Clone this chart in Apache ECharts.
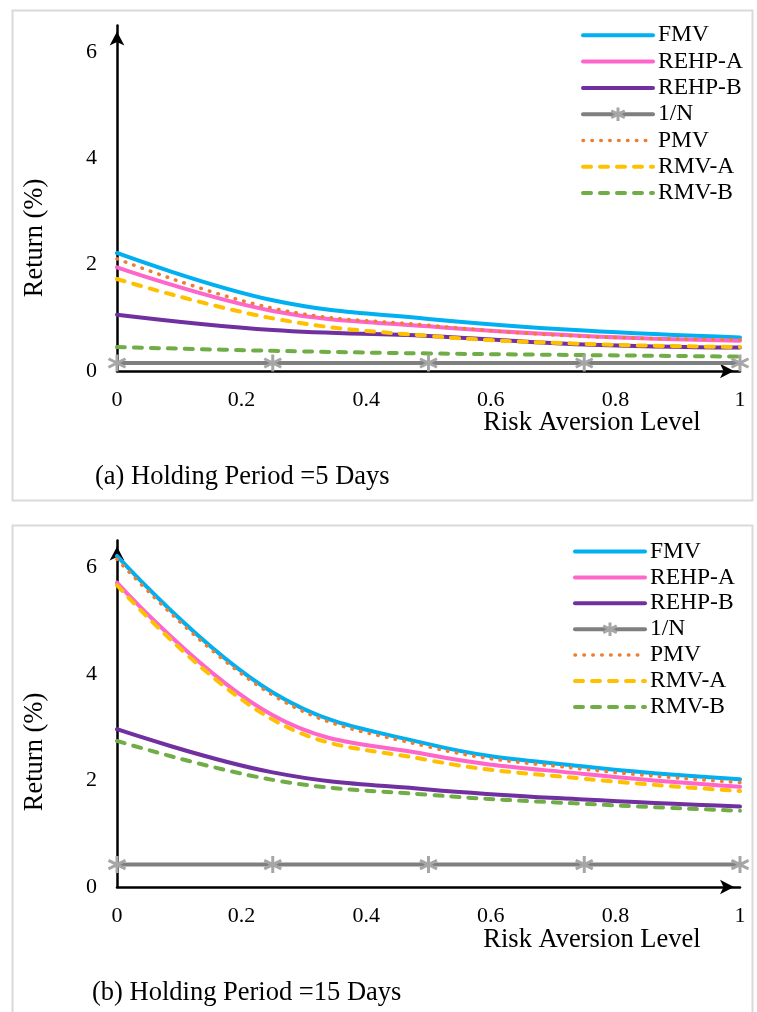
<!DOCTYPE html>
<html>
<head>
<meta charset="utf-8">
<script src="https://cdn.jsdelivr.net/npm/echarts@6/dist/echarts.min.js"></script>
<style>
html,body{margin:0;padding:0;background:#fff;}
#chart{width:757px;height:1012px;}
</style>
</head>
<body>
<div id="chart"></div>
<script>
// ---------------- DATA ----------------
const xValues = [0, 0.25, 0.5, 0.75, 1];
const xTickLabels = ['0', '0.2', '0.4', '0.6', '0.8', '1'];
const yTickLabels = ['0', '2', '4', '6'];
const seriesNames = ['FMV', 'REHP-A', 'REHP-B', '1/N', 'PMV', 'RMV-A', 'RMV-B'];

// Panel (a): Holding period = 5 days
const fmv5   = [2.22, 1.33, 0.98, 0.76, 0.63];
const rehpA5 = [1.95, 1.13, 0.84, 0.66, 0.57];
const rehpB5 = [1.06, 0.77, 0.66, 0.50, 0.44];
const oneN5  = [0.15, 0.15, 0.15, 0.15, 0.15];
const pmv5   = [2.11, 1.18, 0.86, 0.65, 0.59];
const rmvA5  = [1.73, 0.99, 0.66, 0.51, 0.45];
const rmvB5  = [0.45, 0.38, 0.33, 0.30, 0.27];

// Panel (b): Holding period = 15 days
const fmv15   = [6.21, 3.65, 2.68, 2.26, 2.02];
const rehpA15 = [5.71, 3.22, 2.48, 2.12, 1.88];
const rehpB15 = [2.96, 2.15, 1.83, 1.64, 1.51];
const oneN15  = [0.42, 0.42, 0.42, 0.42, 0.42];
const pmv15   = [6.15, 3.60, 2.63, 2.21, 1.96];
const rmvA15  = [5.66, 3.14, 2.38, 2.03, 1.80];
const rmvB15  = [2.74, 2.01, 1.73, 1.56, 1.43];

const panelA = [fmv5, rehpA5, rehpB5, oneN5, pmv5, rmvA5, rmvB5];
const panelB = [fmv15, rehpA15, rehpB15, oneN15, pmv15, rmvA15, rmvB15];

const titleX = 'Risk Aversion Level';
const titleY = 'Return (%)';
const captionA = '(a) Holding Period =5 Days';
const captionB = '(b) Holding Period =15 Days';

// ---------------- STYLE ----------------
const FONT = '"Liberation Serif", "Times New Roman", serif';
const styles = {
  'FMV':    {color: '#00b0f0', type: 'solid', width: 4},
  'REHP-A': {color: '#ff66cc', type: 'solid', width: 4},
  'REHP-B': {color: '#7030a0', type: 'solid', width: 4},
  '1/N':    {color: '#7f7f7f', type: 'solid', width: 4, marker: true},
  'PMV':    {color: '#ed7d31', type: [0.5, 8.4], width: 3.5},
  'RMV-A':  {color: '#ffc000', type: [8, 9], width: 4},
  'RMV-B':  {color: '#70ad47', type: [8, 9], width: 4}
};
const asterisk = 'path://M0,-10L0,10M-8.66,-5L8.66,5M-8.66,5L8.66,-5';

function makeSeries(values, gi) {
  return seriesNames.map((name, k) => {
    const s = styles[name];
    return {
      type: 'line',
      name: name,
      xAxisIndex: gi,
      yAxisIndex: gi,
      data: xValues.map((x, i) => [x, values[k][i]]),
      smooth: 0.4,
      symbol: s.marker ? asterisk : 'none',
      showSymbol: !!s.marker,
      symbolSize: 17,
      lineStyle: {color: s.color, width: s.width, type: s.type, cap: 'round'},
      itemStyle: s.marker
        ? {color: '#a6a6a6', borderColor: '#a6a6a6', borderWidth: 3}
        : {color: 'rgba(0,0,0,0)', borderWidth: 0},
      emphasis: {disabled: true},
      animation: false
    };
  });
}

function xAxis(gi) {
  return {
    type: 'value', gridIndex: gi, min: 0, max: 1, interval: 0.2,
    axisLine: {lineStyle: {color: '#000', width: 2.5}, symbol: ['none', 'arrow'], symbolSize: [11, 14], symbolOffset: [0, -6]},
    axisTick: {show: false},
    splitLine: {show: false},
    axisLabel: {color: '#000', fontFamily: FONT, fontSize: 22, margin: 18,
      formatter: v => xTickLabels[Math.round(v / 0.2)]}
  };
}
function yAxis(gi) {
  return {
    type: 'value', gridIndex: gi, min: 0, max: 6.5, interval: 2,
    axisLine: {show: true, lineStyle: {color: '#000', width: 2.5}, symbol: ['none', 'arrow'], symbolSize: [11, 14], symbolOffset: [0, -6]},
    axisTick: {show: false},
    splitLine: {show: false},
    axisLabel: {color: '#000', fontFamily: FONT, fontSize: 22, margin: 20, showMaxLabel: false,
      formatter: v => yTickLabels[Math.round(v / 2)]}
  };
}
function legend(left, top, gap) {
  return {
    orient: 'vertical', left: left, top: top, padding: 0,
    itemWidth: 70, itemHeight: 17, itemGap: gap,
    data: seriesNames,
    lineStyle: {width: 'inherit'},
    itemStyle: {borderWidth: 'inherit'},
    textStyle: {color: '#000', fontFamily: FONT, fontSize: 23.5},
    selectedMode: false
  };
}
function text(str, x, y, size, align, rot) {
  return {
    type: 'text', x: x, y: y, rotation: rot || 0,
    style: {text: str, fill: '#000', fontFamily: FONT, fontSize: size, align: align, verticalAlign: 'middle'}
  };
}

const chart = echarts.init(document.getElementById('chart'), null, {renderer: 'canvas'});
chart.setOption({
  backgroundColor: '#fff',
  animation: false,
  grid: [
    {left: 117, top: 25.4, width: 623, height: 345.6},
    {left: 117, top: 540.5, width: 623, height: 346.5}
  ],
  xAxis: [xAxis(0), xAxis(1)],
  yAxis: [yAxis(0), yAxis(1)],
  legend: [legend(581, 23.3, 2.3), legend(573, 539.5, 1.9)],
  series: makeSeries(panelA, 0).concat(makeSeries(panelB, 1)),
  graphic: [
    {type: 'rect', shape: {x: 12.5, y: 10.5, width: 740, height: 490}, style: {fill: 'none', stroke: '#d9d9d9', lineWidth: 2}, z: -1},
    {type: 'rect', shape: {x: 12.5, y: 525.5, width: 740, height: 500}, style: {fill: 'none', stroke: '#d9d9d9', lineWidth: 2}, z: -1},
    text(titleX, 592, 423, 26.5, 'center'),
    text(titleX, 592, 940, 26.5, 'center'),
    text(captionA, 95, 477, 26.5, 'left'),
    text(captionB, 92, 993, 26.5, 'left'),
    text(titleY, 35, 238, 26.5, 'center', Math.PI / 2),
    text(titleY, 35, 752, 26.5, 'center', Math.PI / 2)
  ]
});
</script>
</body>
</html>
